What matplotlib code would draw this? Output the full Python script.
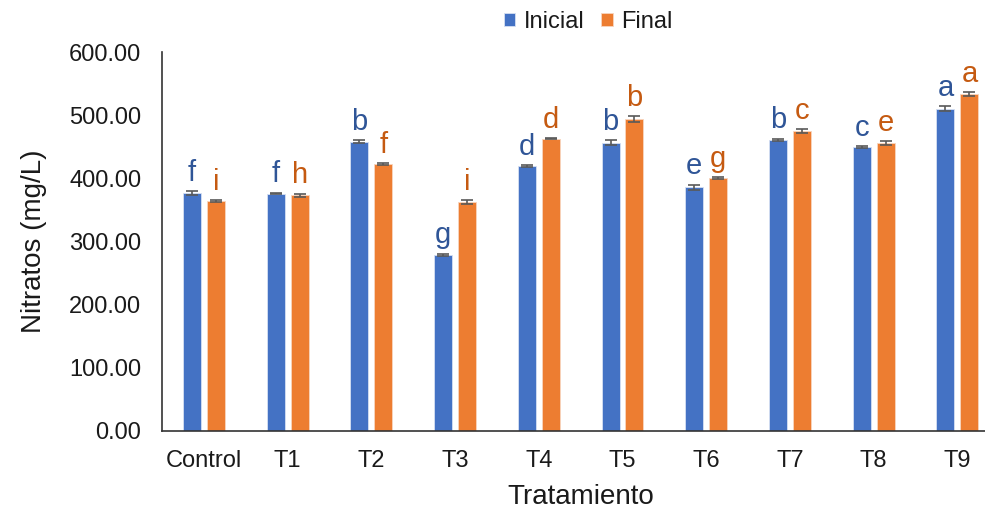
import numpy as np
import matplotlib.pyplot as plt

plt.rcParams["font.family"] = ["Liberation Sans", "DejaVu Sans"]

treatments = ["Control", "T1", "T2", "T3", "T4", "T5", "T6", "T7", "T8", "T9"]
inicial = [377, 376, 458, 279, 419, 456, 386, 461, 449, 510]
final = [364, 373, 422, 363, 463, 494, 401, 475, 456, 534]
inicial_err = [3, 1.5, 2, 2, 1.5, 4, 4, 2, 1.5, 4]
final_err = [1.5, 3, 1.5, 3, 1, 5, 1.5, 3, 3, 3]
inicial_letters = ["f", "f", "b", "g", "d", "b", "e", "b", "c", "a"]
final_letters = ["i", "h", "f", "i", "d", "b", "g", "c", "e", "a"]

BLUE = "#4472C4"
ORANGE = "#ED7D31"
BLUE_TXT = "#2F5597"
ORANGE_TXT = "#C55A11"
TXT = "#1a1a1a"

fig = plt.figure(figsize=(9.85, 5.08), dpi=100)
ax = fig.add_axes([0.1645, 0.1516, 0.85, 0.746])

x = np.arange(len(treatments))
w = 0.215
off = 0.143
err_kw = dict(ecolor="#595959", elinewidth=1.2, capsize=4, capthick=1.2)

ax.bar(x - off, inicial, w, yerr=inicial_err, color=BLUE, edgecolor="#d6e0f2",
       linewidth=0.6, label="Inicial", error_kw=err_kw)
ax.bar(x + off, final, w, yerr=final_err, color=ORANGE, edgecolor="#f8d5bf",
       linewidth=0.6, label="Final", error_kw=err_kw)

# significance letters above each bar
for i in range(len(treatments)):
    ax.annotate(inicial_letters[i], (x[i] - off, inicial[i] + inicial_err[i]),
                xytext=(0, 3), textcoords="offset points", ha="center", va="bottom",
                fontsize=21, color=BLUE_TXT)
    ax.annotate(final_letters[i], (x[i] + off, final[i] + final_err[i]),
                xytext=(0, 3), textcoords="offset points", ha="center", va="bottom",
                fontsize=21, color=ORANGE_TXT)

ax.set_xlim(-0.5, len(treatments) - 0.5)
ax.set_ylim(0, 600)
ax.set_yticks(np.arange(0, 601, 100))
ax.set_yticklabels([f"{v:.2f}" for v in np.arange(0, 601, 100)])
ax.set_xticks(x)
ax.set_xticklabels(treatments)
ax.tick_params(axis="both", length=0, labelsize=17, colors=TXT)
ax.tick_params(axis="x", pad=14)
ax.tick_params(axis="y", pad=15)

for side in ["top", "right"]:
    ax.spines[side].set_visible(False)
for side in ["left", "bottom"]:
    ax.spines[side].set_color("#333333")
    ax.spines[side].set_linewidth(1.2)

ax.set_ylabel("Nitratos (mg/L)", fontsize=20, labelpad=16, color=TXT)
ax.set_xlabel("Tratamiento", fontsize=20, labelpad=8, color=TXT)

fig.legend(loc="upper center", bbox_to_anchor=(0.597, 1.02), ncol=2, frameon=False,
           fontsize=17, handlelength=0.5, handleheight=0.5, handletextpad=0.35,
           columnspacing=0.7, labelcolor=TXT)

fig.savefig("out.png", dpi=100)
